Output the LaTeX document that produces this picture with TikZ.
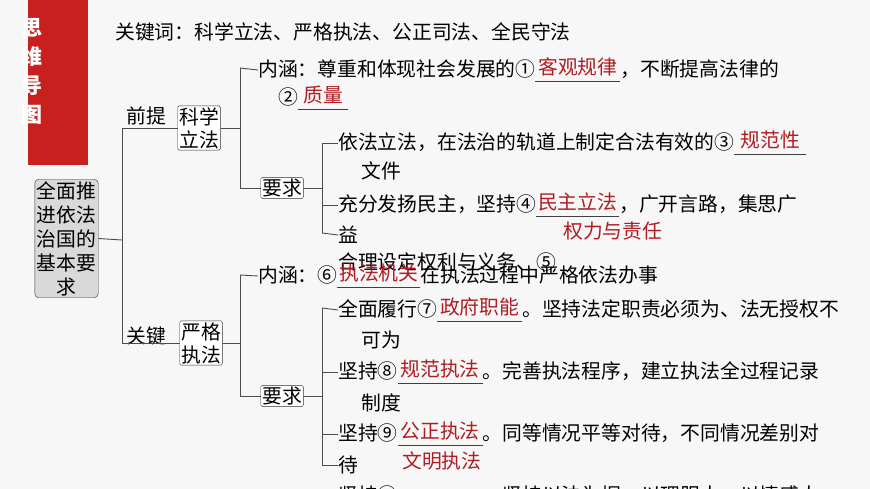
\documentclass[tikz,border=0pt]{standalone}
\usepackage{fontspec}
\setmainfont{Noto Sans CJK SC}
\definecolor{bg}{HTML}{F7F7F7}
\definecolor{ans}{HTML}{B01C22}
\definecolor{side}{HTML}{C8201F}
\newcommand\ansbl[2]{\leavevmode\rlap{\color{black!75}\rule[-5pt]{#1pt}{0.8pt}}\makebox[#1pt][c]{\raisebox{2pt}{\color{ans}#2}}}
\begin{document}
\begin{tikzpicture}[x=1pt,y=-1pt,
  t/.style={anchor=west,inner sep=0pt,font=\fontsize{19.8}{22}\selectfont},
  a/.style={t,text=ans},
  bx/.style={draw=black!80,fill=white,rounded corners=1.5pt,inner sep=1.5pt,align=center,font=\fontsize{19.8}{23}\selectfont},
  ln/.style={draw=black!70,line width=0.9pt}]
\useasboundingbox (0,0) rectangle (870,489);
\clip (0,0) rectangle (870,489);
\fill[bg] (0,0) rectangle (870,489);
\fill[side] (28,0) rectangle (88,165);
\node[anchor=north,inner sep=0pt,text=white,align=center,font=\bfseries\fontsize{21}{29}\selectfont] (sd) at (32,18) {思\\维\\导\\图};
\node[t] (kw) at (115,32) {关键词：科学立法、严格执法、公正司法、全民守法};
\node[bx,fill=black!15,draw=black!80,inner sep=2pt,rounded corners=4pt,font=\fontsize{19.8}{24}\selectfont] (root) at (66.5,238.5) {全面推\\进依法\\治国的\\基本要\\求};
\coordinate (v0) at (122,240);
\node[bx] (kx) at (199,128) {科学\\立法};
\node[bx] (yj) at (201,343) {严格\\执法};
\node[t] (qt) at (126,116) {前提};
\node[t] (gj) at (126,336) {关键};
\draw[ln] (root.east) -- (v0);
\draw[ln] (v0|-kx) -- (v0|-yj);
\draw[ln] (v0|-kx) -- (kx.west);
\draw[ln] (v0|-yj) -- (yj.west);
% upper
\node[bx] (yq1) at (282,188) {要求};
\node[t] (nh1) at (258,70) {内涵：尊重和体现社会发展的①\ansbl{85}{客观规律}，不断提高法律的};
\draw[ln] (kx.east) -- (240,128);
\draw[ln] (240,68) -- (240,188) -- (yq1.west);
\draw[ln] (240,68) -- (nh1.west);
\node[t] (n2) at (278,98) {②\ansbl{50}{质量}};
\draw[ln] (yq1.east) -- (322,188);
\draw[ln] (322,143) -- (322,233);
\node[t] (r1) at (338,143) {依法立法，在法治的轨道上制定合法有效的③\ansbl{72}{规范性}};
\draw[ln] (322,143) -- (r1.west);
\node[t] (r1b) at (361,171) {文件};
\node[t] (r2) at (338,205) {充分发扬民主，坚持④\ansbl{83}{民主立法}，广开言路，集思广};
\draw[ln] (322,205) -- (r2.west);
\node[t] (r3) at (338,235) {益};
\draw[ln] (322,233) -- (r3.west);
\node[a] (a5) at (563,231) {权力与责任};
\node[t] (r4) at (338,262) {合理设定权利与义务、⑤};
% lower
\node[bx] (yq2) at (282,396) {要求};
\draw[ln] (yj.east) -- (240,343);
\draw[ln] (240,275) -- (240,396) -- (yq2.west);
\node[t] (nh2) at (258,276) {内涵：⑥\ansbl{83}{执法机关}在执法过程中严格依法办事};
\draw[ln] (240,275) -- (nh2.west);
\draw[ln] (yq2.east) -- (322,396);
\draw[ln] (322,308) -- (322,465);
\node[t] (s1) at (338,310) {全面履行⑦\ansbl{85}{政府职能}。坚持法定职责必须为、法无授权不};
\draw[ln] (322,308) -- (s1.west);
\node[t] (s1c) at (361,340) {可为};
\node[t] (s2) at (338,372) {坚持⑧\ansbl{85}{规范执法}。完善执法程序，建立执法全过程记录};
\draw[ln] (322,372) -- (s2.west);
\node[t] (s2c) at (361,403) {制度};
\node[t] (s3) at (338,434) {坚持⑨\ansbl{85}{公正执法}。同等情况平等对待，不同情况差别对};
\draw[ln] (322,434) -- (s3.west);
\node[t] (s4) at (338,465) {待};
\draw[ln] (322,465) -- (s4.west);
\node[a] (a10) at (402,461) {文明执法};
\node[t] (s5) at (338,497) {坚持⑩\ansbl{85}{}。坚持以法为据，以理服人，以情感人};
\end{tikzpicture}
\end{document}
